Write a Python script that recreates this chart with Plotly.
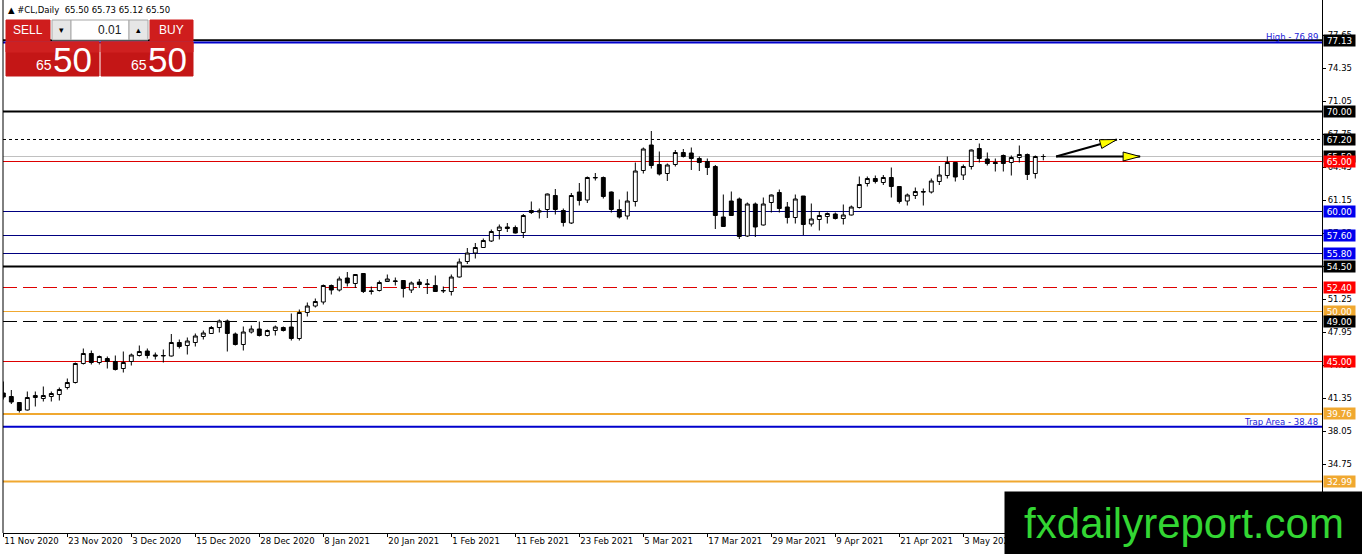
import plotly.graph_objects as go

W, H = 1362, 554

# bar number -> date label shown on the time axis (every 8th bar)
tick_bars = [0, 8, 16, 24, 32, 40, 48, 56, 64, 72, 80, 88, 96, 104, 112, 120, 128]
tick_dates = ["11 Nov 2020", "23 Nov 2020", "3 Dec 2020", "15 Dec 2020", "28 Dec 2020",
              "8 Jan 2021", "20 Jan 2021", "1 Feb 2021", "11 Feb 2021", "23 Feb 2021",
              "5 Mar 2021", "17 Mar 2021", "29 Mar 2021", "9 Apr 2021", "21 Apr 2021",
              "3 May 2021", "13 May 2021"]

opens = [41.85, 41.5, 40.9, 40.15, 41.4, 41.3, 41.5, 41.7, 42.4, 42.9,
         44.8, 45.8, 44.9, 45.3, 45.0, 44.3, 45.0, 45.6, 46.05, 45.65,
         45.55, 45.55, 46.9, 46.6, 46.9, 47.5, 47.8, 48.4, 49.05, 47.75,
         46.7, 47.95, 48.25, 47.6, 48.1, 48.4, 48.45, 47.3, 49.9, 50.55,
         50.95, 52.6, 52.15, 53.35, 52.8, 53.8, 52.0, 52.1, 53.0, 53.0,
         53.1, 52.15, 52.95, 52.7, 52.6, 52.05, 52.0, 53.45, 55.0, 55.85,
         56.4, 57.05, 58.1, 58.45, 58.4, 57.9, 60.1, 59.95, 60.2, 61.6,
         60.1, 58.85, 61.95, 61.15, 63.35, 63.4, 61.95, 60.2, 59.55, 61.0,
         64.1, 66.65, 64.7, 63.8, 64.7, 65.9, 65.85, 65.3, 65.0, 64.5,
         59.45, 61.05, 61.25, 57.55, 60.75, 58.65, 60.9, 61.9, 60.45, 59.4,
         61.55, 58.75, 59.2, 59.5, 59.75, 59.3, 59.65, 60.4, 62.8, 63.3,
         62.9, 63.4, 62.5, 61.05, 61.6, 62.0, 61.95, 63.0, 63.6, 64.9,
         63.65, 64.5, 66.3, 65.25, 64.9, 65.6, 64.9, 65.4, 65.7, 63.8,
         65.5]
highs = [43.0, 42.15, 40.95, 42.0, 42.0, 42.5, 42.0, 42.4, 43.3, 44.9,
         46.3, 46.1, 45.6, 45.5, 45.6, 46.0, 45.8, 46.6, 46.3, 45.9,
         46.2, 47.75, 47.2, 47.4, 47.8, 48.1, 48.55, 49.2, 49.2, 47.9,
         48.5, 48.6, 49.0, 48.2, 48.6, 48.5, 49.8, 50.2, 50.9, 51.3,
         52.7, 52.7, 53.5, 53.95, 53.75, 53.85, 52.5, 53.1, 53.7, 53.4,
         53.15, 53.0, 53.25, 53.25, 53.6, 52.5, 53.7, 55.3, 56.35, 56.85,
         57.3, 58.2, 58.7, 58.85, 58.6, 59.75, 61.0, 60.3, 61.8, 62.25,
         60.3, 61.85, 62.85, 63.5, 63.85, 63.5, 62.0, 61.2, 62.0, 64.9,
         66.4, 68.05, 66.0, 64.8, 66.15, 66.25, 66.4, 65.5, 65.3, 64.65,
         61.7, 62.0, 61.4, 60.9, 60.9, 61.4, 61.7, 62.2, 60.95, 61.7,
         61.55, 60.8, 60.05, 59.9, 59.9, 60.7, 60.6, 63.5, 63.5, 63.6,
         63.65, 64.4, 62.55, 61.8, 62.4, 62.3, 63.3, 64.55, 65.5, 64.9,
         64.7, 66.2, 66.8, 65.9, 65.3, 65.7, 65.6, 66.6, 65.8, 65.6,
         65.73]
lows = [41.2, 40.75, 39.9, 40.1, 40.5, 41.0, 41.0, 41.1, 42.2, 42.8,
        44.7, 44.7, 44.7, 44.3, 44.1, 43.9, 44.6, 45.5, 45.3, 45.2,
        44.9, 45.5, 46.3, 45.7, 46.5, 47.2, 47.75, 47.9, 46.0, 46.6,
        46.1, 47.8, 47.5, 47.5, 47.6, 48.0, 47.1, 47.1, 49.5, 50.4,
        50.7, 51.7, 52.0, 52.5, 52.35, 51.85, 51.7, 52.0, 52.95, 52.6,
        51.4, 51.85, 52.35, 51.75, 51.95, 51.85, 51.6, 53.4, 54.75, 55.3,
        56.35, 56.95, 57.2, 57.95, 57.8, 57.35, 59.75, 59.3, 59.35, 59.7,
        58.5, 58.75, 60.6, 60.85, 63.1, 61.3, 59.9, 59.3, 59.2, 60.5,
        63.8, 64.3, 63.6, 63.05, 64.5, 65.4, 64.15, 64.05, 63.65, 58.25,
        58.45, 59.55, 57.25, 57.45, 57.45, 58.6, 59.9, 59.9, 58.8, 58.8,
        57.65, 58.5, 58.1, 58.8, 59.2, 58.7, 59.6, 60.3, 62.5, 62.8,
        62.65, 61.4, 60.8, 60.6, 61.25, 60.6, 61.8, 62.65, 63.3, 63.0,
        63.15, 64.2, 64.9, 64.6, 64.0, 64.0, 63.6, 64.9, 63.15, 63.3,
        65.12]
closes = [41.45, 40.95, 40.1, 41.4, 41.6, 41.6, 41.8, 42.2, 42.9, 44.8,
          45.8, 44.9, 45.5, 45.0, 44.2, 44.9, 45.65, 46.0, 45.6, 45.55,
          45.6, 46.9, 46.5, 47.05, 47.55, 47.85, 48.4, 49.05, 47.8, 46.7,
          47.95, 48.25, 47.6, 48.1, 48.45, 48.1, 47.3, 49.9, 50.55, 51.0,
          52.6, 52.15, 53.25, 52.85, 53.7, 52.0, 52.05, 52.9, 53.25, 53.05,
          52.3, 52.85, 52.7, 52.75, 52.0, 52.1, 53.45, 54.95, 55.85, 56.4,
          57.1, 58.0, 58.45, 58.3, 57.85, 59.6, 59.9, 60.05, 61.75, 60.2,
          58.9, 61.6, 61.1, 63.4, 63.4, 61.5, 60.2, 59.45, 61.05, 64.05,
          66.25, 64.6, 63.75, 64.65, 65.9, 65.5, 65.3, 64.9, 64.4, 59.6,
          58.5, 59.6, 57.5, 60.75, 58.45, 60.75, 61.65, 60.3, 59.4, 61.25,
          58.7, 59.25, 59.6, 59.8, 59.3, 59.65, 60.45, 62.7, 63.3, 63.0,
          63.4, 62.5, 61.0, 61.65, 62.0, 61.95, 63.05, 63.65, 64.9, 63.45,
          64.5, 66.15, 65.3, 64.8, 64.8, 64.8, 65.4, 65.7, 63.7, 65.5,
          65.5]

price_ticks = [77.65, 74.35, 71.05, 67.75, 64.45, 61.15, 57.85, 54.55, 51.25,
               47.95, 44.65, 41.35, 38.05, 34.75, 31.45]

# horizontal levels drawn on the chart
levels = [77.13, 76.89, 70.00, 67.20, 65.50, 65.00, 60.00, 57.60, 55.80, 54.50,
          52.40, 50.00, 49.00, 45.00, 39.76, 38.48, 32.99]
level_colors = ["#000000", "#0000cc", "#000000", "#000000", "#c0c0c0", "#dd0000",
                "#000080", "#000080", "#000080", "#000000", "#dd0000", "#f0a830",
                "#000000", "#dd0000", "#f0a830", "#0000cc", "#f0a830"]
level_widths = [2, 2, 2, 1, 1, 1, 1, 1, 1, 2, 1, 1, 1, 1, 2, 2, 2]
level_dash = ["solid", "solid", "solid", "3px,3px", "solid", "solid", "solid", "solid",
              "solid", "solid", "14px,6px", "solid", "14px,6px", "solid", "solid",
              "solid", "solid"]

# price tags on the right scale
tag_prices = [77.13, 70.00, 67.20, 65.50, 65.00, 60.00, 57.60, 55.80, 54.50,
              52.40, 50.00, 49.00, 45.00, 39.76, 32.99]
tag_colors = ["#000000", "#000000", "#000000", "#000000", "#ff0000", "#0000ee",
              "#0000ee", "#0000ee", "#000000", "#ff0000", "#f0a830", "#000000",
              "#ff0000", "#f0a830", "#f0a830"]

bid, day_open, day_high, day_low = 65.50, 65.50, 65.73, 65.12
high_level, trap_level = 76.89, 38.48

# drawn arrows: common start, two tips
arrow_start = (131.6, 65.50)
arrow_tips = [(139.2, 67.20), (142.1, 65.50)]

XPX, YPX = 8.0, 10.0  # pixels per bar, pixels per 1.00 of price


def px(x):
    return x / W


def py(y):
    return 1 - y / H


def head_path(x0, y0, x1, y1, length=17, half=4.5):
    dx, dy = (x1 - x0) * XPX, (y1 - y0) * YPX
    n = (dx * dx + dy * dy) ** 0.5
    ux, uy = dx / n, dy / n
    bx, by = dx - ux * length, dy - uy * length
    pts = [(dx, dy), (bx - uy * half, by + ux * half), (bx + uy * half, by - ux * half)]
    pts = [(x0 + a / XPX, y0 + b / YPX) for a, b in pts]
    return "M{} {} L{} {} L{} {} Z".format(*[v for p in pts for v in p])


fig = go.Figure()
fig.add_trace(go.Candlestick(
    x=list(range(len(opens))), open=opens, high=highs, low=lows, close=closes,
    increasing=dict(line=dict(color="black", width=1), fillcolor="white"),
    decreasing=dict(line=dict(color="black", width=1), fillcolor="black"),
    hoverinfo="skip", showlegend=False,
))

shapes = []
for p, c, w, d in zip(levels, level_colors, level_widths, level_dash):
    shapes.append(dict(type="line", xref="x domain", yref="y", x0=0, x1=1, y0=p, y1=p,
                       line=dict(color=c, width=w, dash=d), layer="below"))

# left frame
shapes.append(dict(type="line", xref="paper", yref="paper", x0=px(3), x1=px(3),
                   y0=py(0), y1=py(533), line=dict(color="black", width=1)))

# arrows
for tx, ty in arrow_tips:
    shapes.append(dict(type="line", xref="x", yref="y", x0=arrow_start[0], y0=arrow_start[1],
                       x1=tx, y1=ty, line=dict(color="black", width=2)))
for tx, ty in arrow_tips:
    shapes.append(dict(type="path", xref="x", yref="y",
                       path=head_path(arrow_start[0], arrow_start[1], tx, ty),
                       fillcolor="#ffff00", line=dict(color="black", width=1)))


def rect(x0, y0, x1, y1, fill, line=None):
    shapes.append(dict(type="rect", xref="paper", yref="paper", x0=px(x0), x1=px(x1),
                       y0=py(y1), y1=py(y0), fillcolor=fill,
                       line=dict(color=line or fill, width=1), layer="above"))


# one-click trading panel
rect(6, 20, 50, 41, "#cf1d1d")
rect(52, 20, 71, 40, "#e6e6e6", "#a8a8a8")
rect(71, 20, 129, 40, "#ffffff", "#a8a8a8")
rect(129, 20, 148, 40, "#e6e6e6", "#a8a8a8")
rect(150, 20, 193, 41, "#cf1d1d")
rect(6, 42, 99, 76, "#c41616")
rect(101, 42, 193, 76, "#c41616")
rect(6, 42, 99, 52, "#cf2020")
rect(101, 42, 193, 52, "#cf2020")

FONT = "Liberation Sans, Arial, sans-serif"
SMALL = "DejaVu Sans, Verdana, sans-serif"
ann = []


def text(x, y, s, size, color, xanchor="left", family=FONT):
    ann.append(dict(xref="paper", yref="paper", x=px(x), y=py(y), text=s, showarrow=False,
                    xanchor=xanchor, yanchor="middle",
                    font=dict(family=family, size=size, color=color)))


text(6, 10, "\u25b2 #CL,Daily  {:.2f} {:.2f} {:.2f} {:.2f}".format(day_open, day_high, day_low, bid),
     8.5, "#000000", family=SMALL)
text(28, 30, "SELL", 12, "white", "center")
text(61, 30, "\u25be", 9, "#000000", "center")
text(124, 30, "0.01", 12, "#202020", "right")
text(138, 30, "\u25b4", 9, "#000000", "center")
text(171, 30, "BUY", 12, "white", "center")
for x0, x1 in [(34, 51), (129, 146)]:
    text(x0, 65, "{:.0f}".format(bid // 1), 14, "white")
    text(x1, 60, "{:02.0f}".format(round(bid % 1 * 100)), 35, "white")

for p, c in zip(tag_prices, tag_colors):
    ann.append(dict(xref="paper", yref="y", x=px(1323), y=p, xanchor="left", yanchor="middle",
                    text="{:.2f}".format(p), showarrow=False, bgcolor=c, borderpad=0,
                    width=31, height=11, font=dict(family=SMALL, size=8.8, color="white")))

ann.append(dict(xref="paper", yref="y", x=px(1320), y=high_level, yshift=6, xanchor="right",
                yanchor="middle", text="High - {:.2f}".format(high_level), showarrow=False,
                font=dict(family=SMALL, size=8.5, color="#1a1ad8")))
ann.append(dict(xref="paper", yref="y", x=px(1320), y=trap_level, yshift=5, xanchor="right",
                yanchor="middle", text="Trap Area - {:.2f}".format(trap_level), showarrow=False,
                font=dict(family=SMALL, size=8.5, color="#1a1ad8")))

# watermark
ann.append(dict(xref="paper", yref="paper", x=px(1004), y=py(491), xanchor="left", yanchor="top",
                width=358, height=63, bgcolor="black", borderpad=0, showarrow=False,
                text="fxdailyreport.com", align="center", valign="middle",
                font=dict(family=FONT, size=42, color="#33d633")))

fig.update_layout(
    width=W, height=H, margin=dict(l=0, r=0, t=0, b=0),
    paper_bgcolor="white", plot_bgcolor="white",
    shapes=shapes, annotations=ann, showlegend=False,
    xaxis=dict(domain=[px(3), px(1322)], range=[-0.04, -0.04 + 1319 / XPX],
               rangeslider=dict(visible=False), showgrid=False, zeroline=False,
               showline=True, linecolor="black", linewidth=1,
               ticks="outside", ticklen=3, tickcolor="black",
               tickvals=tick_bars, ticktext=tick_dates, ticklabelposition="outside right",
               tickfont=dict(family=SMALL, size=8.5, color="black"), fixedrange=True),
    yaxis=dict(domain=[py(533), 1], range=[27.85, 81.15], side="right",
               showgrid=False, zeroline=False, showline=True, linecolor="black", linewidth=1,
               ticks="outside", ticklen=3, tickcolor="black",
               tickvals=price_ticks, ticktext=["{:.2f}".format(v) for v in price_ticks],
               tickfont=dict(family=SMALL, size=8.5, color="black"), fixedrange=True),
)

# the page body has an 8px default margin; drop it so the figure fills the window
fig.write_html("out.html", config={"displayModeBar": False},
               post_script="document.body.style.margin='0';"
                           "document.body.style.overflow='hidden';")
